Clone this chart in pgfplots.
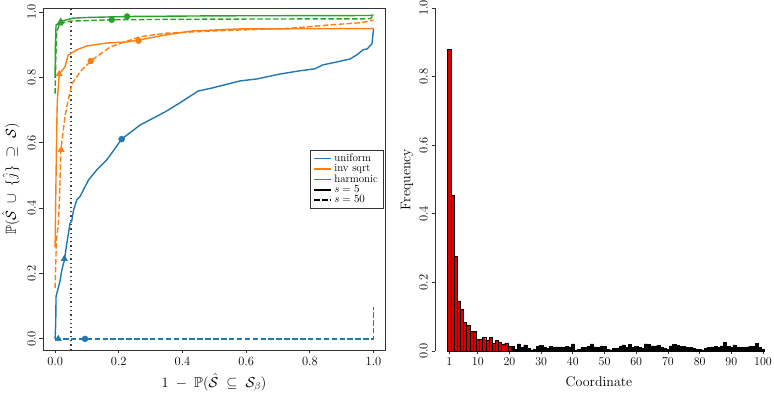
\documentclass[border=0pt]{standalone}
\usepackage{pgfplots}
\pgfplotsset{compat=1.18}
\usepackage{amsmath,amssymb}
\definecolor{tabblue}{HTML}{1F77B4}
\definecolor{taborange}{HTML}{FF7F0E}
\definecolor{tabgreen}{HTML}{2CA02C}
\newcommand{\wide}{\medmuskip=9mu\thickmuskip=10mu}
\begin{document}
\begin{tikzpicture}
\pgfplotsset{
  mystyle/.style={
    scale only axis,
    tick align=outside,
    tick style={black!80, line width=0.8pt},
    major tick length=3.5pt,
    ticklabel style={font=\fontsize{12.5}{14}\selectfont},
    yticklabel style={rotate=90, anchor=south},
    axis line style={black!80, line width=0.8pt},
  },
  sol/.style={line width=1.4pt},
  das/.style={line width=1.4pt, dash pattern=on 5.5pt off 2.4pt},
  tri/.style={only marks, mark=triangle*, mark size=3.6pt},
  cir/.style={only marks, mark=*, mark size=3pt},
}
\begin{axis}[mystyle, at={(43pt,-8pt)}, anchor=north west, width=342pt, height=342pt,
  xmin=-0.038, xmax=1.036, ymin=-0.034, ymax=1.012,
  xtick={0,0.2,0.4,0.6,0.8,1.0}, ytick={0,0.2,0.4,0.6,0.8,1.0},
  xticklabels={0.0,0.2,0.4,0.6,0.8,1.0}, yticklabels={0.0,0.2,0.4,0.6,0.8,1.0},
  xtick pos=bottom, ytick pos=left,
  every axis x label/.style={at={(axis description cs:0.5,-0.096)}, anchor=center, font=\fontsize{14.5}{16}\selectfont},
  every axis y label/.style={at={(axis description cs:-0.094,0.5)}, rotate=90, anchor=center, font=\fontsize{14.5}{16}\selectfont},
  xlabel={$\wide 1-\mathbb{P}(\hat{\mathcal{S}}\subseteq\mathcal{S}_{\beta})$},
  ylabel={$\wide \mathbb{P}(\hat{\mathcal{S}}\cup\{\hat{j}\}\supseteq\mathcal{S})$},
  legend style={at={(0.995,0.5)}, anchor=east, draw=black!80, line width=0.6pt, fill=white,
    font=\fontsize{11}{11}\selectfont, inner xsep=3pt, inner ysep=2pt, row sep=-2.5pt,
    cells={anchor=west}},
  legend image code/.code={\draw[#1, line width=1.8pt] (0pt,0pt) -- (17pt,0pt);},
]
\addlegendimage{tabblue}\addlegendentry{uniform}
\addlegendimage{taborange}\addlegendentry{inv sqrt}
\addlegendimage{tabgreen}\addlegendentry{harmonic}
\addlegendimage{black}\addlegendentry{$s=5$}
\addlegendimage{black, dash pattern=on 5.5pt off 2.4pt}\addlegendentry{$s=50$}
% dotted reference line
\addplot[forget plot, black!75, line width=1.3pt, dash pattern=on 1.3pt off 3pt] coordinates {(0.05,-0.034) (0.05,1.012)};
% uniform
\addplot[forget plot, tabblue, sol] coordinates {
(0,0) (0.002,0.05) (0.003,0.13) (0.01,0.156) (0.016,0.18) (0.021,0.21) (0.029,0.24)
(0.037,0.293) (0.042,0.323) (0.047,0.354) (0.052,0.359) (0.058,0.394) (0.068,0.425)
(0.078,0.435) (0.105,0.486) (0.131,0.517) (0.162,0.547) (0.209,0.611) (0.267,0.654)
(0.298,0.67) (0.345,0.694) (0.392,0.722) (0.449,0.758) (0.496,0.768) (0.581,0.789)
(0.634,0.795) (0.706,0.810) (0.769,0.820) (0.816,0.826) (0.841,0.838) (0.885,0.847)
(0.926,0.856) (0.948,0.869) (0.967,0.884) (0.980,0.887) (0.995,0.902) (1.0,0.948)};
\addplot[forget plot, tabblue, das] coordinates {(0,0) (1,0) (1,0.098)};
\addplot[forget plot, tabblue, tri] coordinates {(0.029,0.245) (0.01,0)};
\addplot[forget plot, tabblue, cir] coordinates {(0.209,0.611) (0.094,0)};
% inv sqrt
\addplot[forget plot, taborange, sol] coordinates {
(0,0.28) (0.003,0.5) (0.005,0.64) (0.007,0.73) (0.013,0.81) (0.031,0.832) (0.041,0.868)
(0.068,0.884) (0.1,0.896) (0.163,0.905) (0.225,0.908) (0.262,0.914) (0.35,0.93)
(0.433,0.942) (0.58,0.948) (0.99,0.949) (1.0,0.95)};
\addplot[forget plot, taborange, das] coordinates {
(0,0.155) (0.004,0.3) (0.01,0.35) (0.014,0.43) (0.018,0.578) (0.031,0.68) (0.041,0.73)
(0.053,0.78) (0.079,0.817) (0.112,0.85) (0.173,0.893) (0.267,0.924) (0.35,0.935)
(0.5,0.942) (0.74,0.95) (0.86,0.96) (0.96,0.967) (1.0,0.975)};
\addplot[forget plot, taborange, tri] coordinates {(0.013,0.81) (0.019,0.578)};
\addplot[forget plot, taborange, cir] coordinates {(0.262,0.912) (0.112,0.85)};
% harmonic
\addplot[forget plot, tabgreen, das] coordinates {
(0,0.75) (0.002,0.85) (0.005,0.94) (0.016,0.966) (0.05,0.972) (0.178,0.976) (0.5,0.978)
(0.99,0.979) (1.0,0.99)};
\addplot[forget plot, tabgreen, sol] coordinates {
(0,0.798) (0.001,0.9) (0.003,0.96) (0.018,0.97) (0.025,0.973) (0.057,0.981) (0.1,0.983)
(0.226,0.986) (0.5,0.988) (0.99,0.989) (1.0,0.991)};
\addplot[forget plot, tabgreen, tri] coordinates {(0.018,0.97) (0.015,0.965)};
\addplot[forget plot, tabgreen, cir] coordinates {(0.226,0.986) (0.178,0.976)};
\end{axis}

\begin{axis}[mystyle, at={(435pt,-8pt)}, anchor=north west, width=328pt, height=343pt,
  xmin=-3.5, xmax=100, ymin=0, ymax=1,
  xtick={1,10,20,30,40,50,60,70,80,90,100},
  ytick={0,0.2,0.4,0.6,0.8,1.0}, yticklabels={0.0,0.2,0.4,0.6,0.8,1.0},
  axis x line*=bottom, axis y line*=left, x axis line style={draw=none},
  clip=false,
  every axis x label/.style={at={(axis description cs:0.5,-0.09)}, anchor=center, font=\fontsize{14}{16}\selectfont},
  every axis y label/.style={at={(axis description cs:-0.085,0.5)}, rotate=90, anchor=center, font=\fontsize{14}{16}\selectfont},
  xlabel={Coordinate}, ylabel={Frequency},
]
\draw[black!80, line width=0.8pt] (axis cs:1,0) -- (axis cs:100,0);
\addplot[ybar, bar width=1, bar shift=0pt, fill=red!85!black, draw=black, line width=0.4pt] coordinates {
(1,0.88) (2,0.455) (3,0.275) (4,0.146) (5,0.122) (6,0.083) (7,0.076) (8,0.057) (9,0.057)
(10,0.034) (11,0.034) (12,0.039) (13,0.032) (14,0.039) (15,0.024) (16,0.031) (17,0.026)
(18,0.021) (19,0.024) (20,0.013)};
\addplot[ybar, bar width=1, bar shift=0pt, fill=black, draw=black, line width=0.4pt] coordinates {
(21,0.013) (22,0.005) (23,0.021) (24,0.010) (25,0.0175) (26,0.007) (27,0.003) (28,0.004)
(29,0.0136) (30,0.0165) (31,0.0117) (32,0.007) (33,0.0126) (34,0.0097) (35,0.0117)
(36,0.0117) (37,0.0097) (38,0.0126) (39,0.0117) (40,0.021) (41,0.003) (42,0.005)
(43,0.0097) (44,0.0097) (45,0.0136) (46,0.021) (47,0.0117) (48,0.0097) (49,0.0146)
(50,0.0126) (51,0.005) (52,0.003) (53,0.0087) (54,0.007) (55,0.0126) (56,0.0175)
(57,0.0097) (58,0.019) (59,0.0097) (60,0.0126) (61,0.0097) (62,0.007) (63,0.021)
(64,0.019) (65,0.0146) (66,0.0146) (67,0.017) (68,0.0097) (69,0.007) (70,0.005)
(71,0.0146) (72,0.019) (73,0.0165) (74,0.0126) (75,0.0126) (76,0.011) (77,0.0097)
(78,0.0087) (79,0.005) (80,0.005) (81,0.003) (82,0.007) (83,0.0097) (84,0.0117)
(85,0.0126) (86,0.0097) (87,0.0146) (88,0.026) (89,0.0136) (90,0.0097) (91,0.0175)
(92,0.0117) (93,0.0097) (94,0.0097) (95,0.0117) (96,0.0136) (97,0.0136) (98,0.022)
(99,0.0097) (100,0.005)};
\end{axis}
\pgfresetboundingbox
\path[use as bounding box] (0pt,0pt) rectangle (774pt,-395pt);
\end{tikzpicture}
\end{document}
